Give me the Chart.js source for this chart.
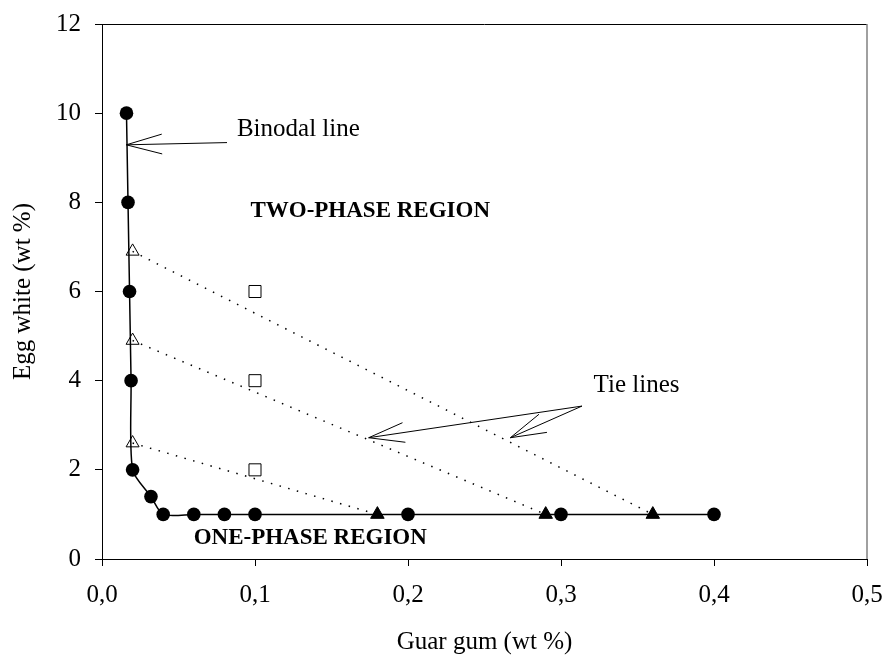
<!DOCTYPE html>
<html>
<head>
<meta charset="utf-8">
<script src="https://cdn.jsdelivr.net/npm/chart.js@4.4.0/dist/chart.umd.min.js"></script>
<style>
  body { margin: 0; background: #fff; }
  #caja { width: 885px; height: 657px; }
</style>
</head>
<body>
<div id="caja"><canvas id="myChart"></canvas></div>
<script>
// Datos de la curva binodal (puntos negros)
const binodalX = [0.016, 0.017, 0.018, 0.019, 0.020, 0.032, 0.040, 0.060, 0.080, 0.100, 0.200, 0.300, 0.400];
const binodalY = [10, 8, 6, 4, 2, 1.4, 1, 1, 1, 1, 1, 1, 1];

// Extremos de las lineas de reparto
const faseArribaX = [0.020, 0.020, 0.020];
const faseArribaY = [6.9, 4.9, 2.6];
const faseAbajoX = [0.36, 0.29, 0.18];
const faseAbajoY = [1, 1, 1];

// Mezclas (cuadrados)
const mezclaX = [0.1, 0.1, 0.1];
const mezclaY = [6, 4, 2];

// Etiquetas de los ejes
const xTickLabels = ["0,0", "0,1", "0,2", "0,3", "0,4", "0,5"];
const yTickLabels = ["0", "2", "4", "6", "8", "10", "12"];

const fuente = "'Times New Roman', 'Liberation Serif', serif";

const pares = (xs, ys) => xs.map((x, i) => ({ x: x, y: ys[i] }));

let datasets = [];

// lineas de reparto punteadas
for (let i = 0; i < faseArribaX.length; i++) {
  datasets.push({
    data: [{ x: faseArribaX[i], y: faseArribaY[i] }, { x: faseAbajoX[i], y: faseAbajoY[i] }],
    showLine: true,
    borderColor: "#000",
    borderWidth: 1.5,
    borderDash: [1.5, 7.5],
    pointRadius: 0
  });
}

datasets.push({
  label: "Binodal",
  data: pares(binodalX, binodalY),
  showLine: true,
  tension: 0.25,
  borderColor: "#000",
  borderWidth: 1.5,
  backgroundColor: "#000",
  pointBackgroundColor: "#000",
  pointBorderColor: "#000",
  pointRadius: 6.8,
  pointBorderWidth: 0
});

datasets.push({
  data: pares(faseArribaX, faseArribaY),
  showLine: false,
  pointStyle: "triangle",
  pointRadius: 7.5,
  pointBackgroundColor: "#fff",
  pointBorderColor: "#000",
  pointBorderWidth: 1
});

datasets.push({
  data: pares(faseAbajoX, faseAbajoY),
  showLine: false,
  pointStyle: "triangle",
  pointRadius: 7.8,
  pointBackgroundColor: "#000",
  pointBorderColor: "#000",
  pointBorderWidth: 1
});

datasets.push({
  data: pares(mezclaX, mezclaY),
  showLine: false,
  pointStyle: "rect",
  pointRadius: 8.5,
  pointBackgroundColor: "#fff",
  pointBorderColor: "#000",
  pointBorderWidth: 1
});

// Flechas y textos del grafico
function flecha(ctx, x1, y1, x2, y2) {
  // x2,y2 es la punta
  const ang = Math.atan2(y1 - y2, x1 - x2);
  const largo = 37;
  const abre = 15.5 * Math.PI / 180;
  ctx.beginPath();
  ctx.moveTo(x1, y1);
  ctx.lineTo(x2, y2);
  ctx.moveTo(x2 + largo * Math.cos(ang - abre), y2 + largo * Math.sin(ang - abre));
  ctx.lineTo(x2, y2);
  ctx.lineTo(x2 + largo * Math.cos(ang + abre), y2 + largo * Math.sin(ang + abre));
  ctx.stroke();
}

const anotaciones = {
  id: "anotaciones",
  afterDraw(chart) {
    const ctx = chart.ctx;
    const sx = chart.scales.x;
    const sy = chart.scales.y;
    const a = chart.chartArea;
    ctx.save();
    // marco superior y derecho
    ctx.lineWidth = 1;
    ctx.strokeStyle = "#000";
    ctx.beginPath();
    ctx.moveTo(a.left, a.top + 0.5);
    ctx.lineTo(a.right, a.top + 0.5);
    ctx.stroke();
    ctx.strokeStyle = "#808080";
    ctx.lineWidth = 1.5;
    ctx.beginPath();
    ctx.moveTo(a.right, a.top);
    ctx.lineTo(a.right, a.bottom);
    ctx.stroke();

    ctx.strokeStyle = "#000";
    ctx.lineWidth = 1;
    flecha(ctx, sx.getPixelForValue(0.0817), sy.getPixelForValue(9.34), sx.getPixelForValue(0.0159), sy.getPixelForValue(9.29));
    const ox = sx.getPixelForValue(0.3137), oy = sy.getPixelForValue(3.43);
    flecha(ctx, ox, oy, sx.getPixelForValue(0.1743), sy.getPixelForValue(2.72));
    flecha(ctx, ox, oy, sx.getPixelForValue(0.2669), sy.getPixelForValue(2.72));

    ctx.fillStyle = "#000";
    ctx.textAlign = "left";
    ctx.textBaseline = "middle";
    ctx.font = "25px " + fuente;
    ctx.fillText("Binodal line", sx.getPixelForValue(0.0882), sy.getPixelForValue(9.64));
    ctx.fillText("Tie lines", sx.getPixelForValue(0.3213), sy.getPixelForValue(3.89));
    ctx.font = "bold 23px " + fuente;
    ctx.fillText("TWO-PHASE REGION", sx.getPixelForValue(0.097), sy.getPixelForValue(7.81));
    ctx.fillText("ONE-PHASE REGION", sx.getPixelForValue(0.0599), sy.getPixelForValue(0.463));
    ctx.restore();
  }
};

const myChart = new Chart(document.getElementById("myChart"), {
  type: "scatter",
  data: { datasets: datasets },
  plugins: [anotaciones],
  options: {
    responsive: true,
    maintainAspectRatio: false,
    animation: false,
    layout: { padding: { top: 24, right: 18, left: 0, bottom: 0 } },
    plugins: { legend: { display: false }, tooltip: { enabled: false } },
    scales: {
      x: {
        type: "linear",
        min: 0,
        max: 0.5,
        afterFit: (s) => { s.height = 98; s.paddingLeft = 0; s.paddingRight = 0; },
        ticks: {
          stepSize: 0.1,
          color: "#000",
          padding: 14,
          font: { family: fuente, size: 25, lineHeight: 1.2 },
          callback: (v, i) => xTickLabels[i]
        },
        grid: { drawOnChartArea: false, drawTicks: true, tickLength: 7, color: "#000" },
        border: { color: "#000", width: 1 },
        title: {
          display: true,
          text: "Guar gum (wt %)",
          color: "#000",
          padding: { top: 0, bottom: 0 },
          font: { family: fuente, size: 25, lineHeight: 1.2 }
        }
      },
      y: {
        type: "linear",
        min: 0,
        max: 12,
        afterFit: (s) => { s.width = 102; s.paddingTop = 0; s.paddingBottom = 0; },
        ticks: {
          stepSize: 2,
          color: "#000",
          padding: 14,
          font: { family: fuente, size: 25, lineHeight: 1.2 },
          callback: (v, i) => yTickLabels[i]
        },
        grid: { drawOnChartArea: false, drawTicks: true, tickLength: 7, color: "#000" },
        border: { color: "#000", width: 1 },
        title: {
          display: true,
          text: "Egg white (wt %)",
          color: "#000",
          padding: { top: 8, bottom: 0 },
          font: { family: fuente, size: 25, lineHeight: 1.2 }
        }
      }
    }
  }
});
</script>
</body>
</html>
